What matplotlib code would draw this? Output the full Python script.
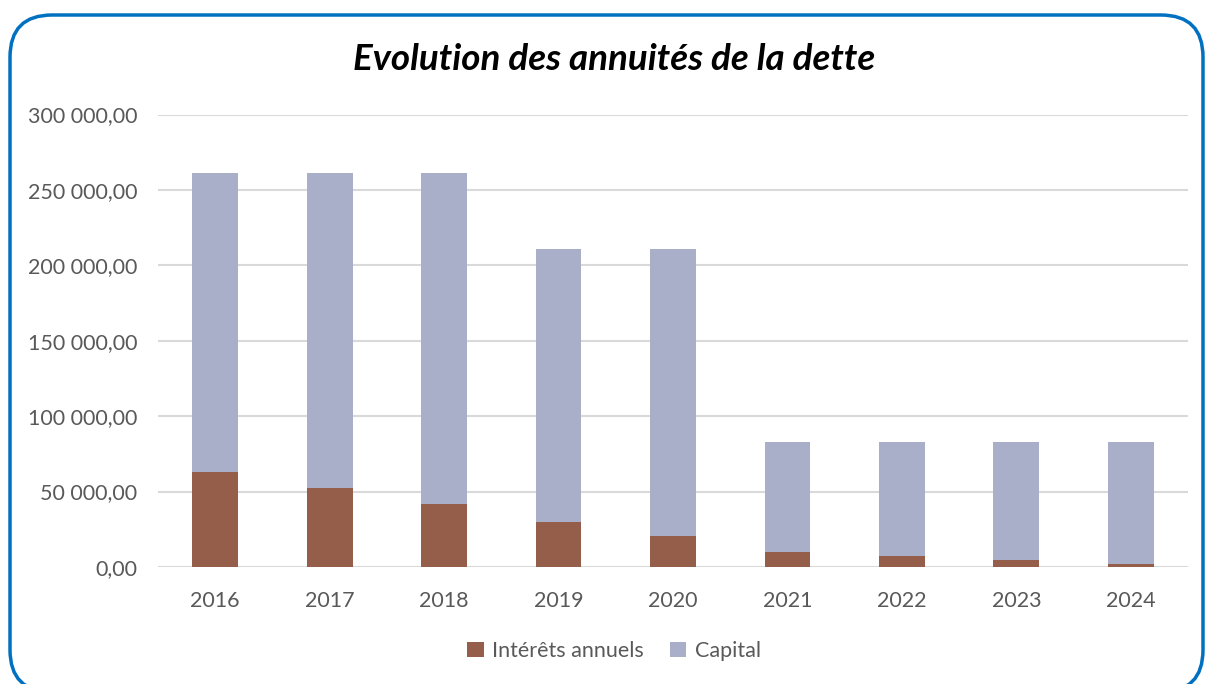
import matplotlib.pyplot as plt
from matplotlib.patches import FancyBboxPatch
from matplotlib.ticker import FuncFormatter
import numpy as np

years = ['2016', '2017', '2018', '2019', '2020', '2021', '2022', '2023', '2024']
interets = [63000, 52600, 41600, 30000, 20600, 9950, 7300, 4640, 1800]
totaux = [261000, 261000, 261000, 210500, 210500, 83100, 83100, 83100, 83100]
capital = [t - i for t, i in zip(totaux, interets)]

col_int = '#945E4A'
col_cap = '#AAAFC9'
txt_grey = '#595959'

plt.rcParams['font.family'] = ['Lato', 'DejaVu Sans']

fig = plt.figure(figsize=(12.05, 6.84), dpi=100)
ax = fig.add_axes([158 / 1205, 1 - 567 / 684, (1188 - 158) / 1205, (567 - 114.5) / 684])

x = np.arange(len(years))
ax.bar(x, interets, width=0.4, color=col_int, label='Intérêts annuels', zorder=3)
ax.bar(x, capital, width=0.4, bottom=interets, color=col_cap, label='Capital', zorder=3)

ax.set_xlim(-0.5, len(years) - 0.5)
ax.set_ylim(0, 300000)
ax.set_yticks(np.arange(0, 300001, 50000))
ax.yaxis.set_major_formatter(FuncFormatter(lambda v, p: f'{v:,.2f}'.replace(',', ' ').replace('.', ',')))
ax.set_xticks(x)
ax.set_xticklabels(years)
ax.tick_params(length=0, labelsize=15.5, colors=txt_grey)
ax.tick_params(axis='x', pad=17)
ax.tick_params(axis='y', pad=15)
ax.grid(axis='y', color='#D9D9D9', linewidth=1.5, zorder=0)
for s in ax.spines.values():
    s.set_visible(False)

fig.text(614 / 1205, 1 - 60 / 684, 'Evolution des annuités de la dette', ha='center', va='center',
         fontsize=26.5, fontweight='bold', fontstyle='italic', color='black')

fig.legend(loc='center', bbox_to_anchor=(614 / 1205, 1 - 651 / 684), ncol=2, frameon=False,
           fontsize=15.5, labelcolor=txt_grey, handlelength=0.75, handleheight=0.75,
           columnspacing=1.2, handletextpad=0.4)

border = FancyBboxPatch((10 / 1205, 1 - 692 / 684), 1193 / 1205, 677 / 684,
                        boxstyle='round,pad=0,rounding_size=0.035', transform=fig.transFigure,
                        facecolor='none', edgecolor='#0070C0', linewidth=2.5, mutation_aspect=1205 / 684)
fig.patches.append(border)

fig.savefig('out.png', dpi=100)
